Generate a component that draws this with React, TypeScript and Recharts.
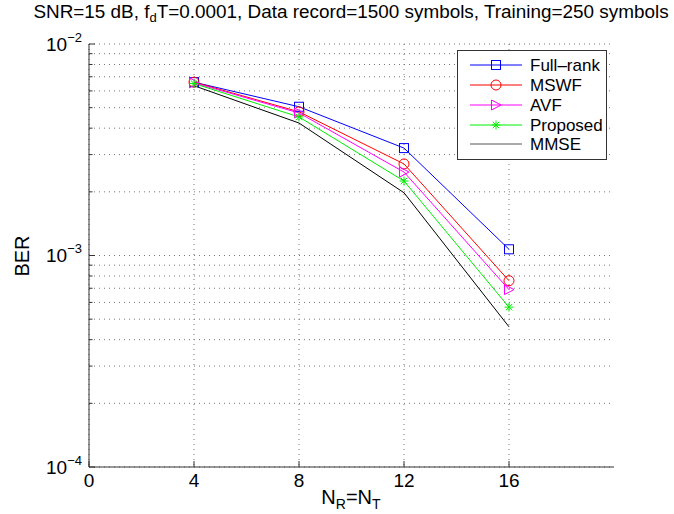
import React from "react";
import { LineChart, Line, XAxis, YAxis, CartesianGrid, Legend, Label } from "recharts";

// ---- data ----
const nValues = [4, 8, 12, 16];
const fullRank = [6.6e-3, 5.05e-3, 3.22e-3, 1.07e-3];
const mswf = [6.6e-3, 4.78e-3, 2.71e-3, 7.6e-4];
const avf = [6.55e-3, 4.72e-3, 2.48e-3, 6.9e-4];
const proposed = [6.5e-3, 4.52e-3, 2.25e-3, 5.7e-4];
const mmse = [6.35e-3, 4.23e-3, 1.98e-3, 4.6e-4];

const xTicks = [0, 4, 8, 12, 16];
const yTicks = [
  1e-4, 2e-4, 3e-4, 4e-4, 5e-4, 6e-4, 7e-4, 8e-4, 9e-4,
  1e-3, 2e-3, 3e-3, 4e-3, 5e-3, 6e-3, 7e-3, 8e-3, 9e-3, 1e-2,
];
const seriesNames = ["Full\u2013rank", "MSWF", "AVF", "Proposed", "MMSE"];
const titleParts = ["SNR=15 dB, f", "d", "T=0.0001, Data record=1500 symbols, Training=250 symbols"];

const data = nValues.map((n, i) => ({
  n,
  fullRank: fullRank[i],
  mswf: mswf[i],
  avf: avf[i],
  proposed: proposed[i],
  mmse: mmse[i],
}));

// ---- layout ----
const W = 674;
const H = 514;
const PL = 89;
const PR = 614;
const PT = 44;
const PB = 467;
const FONT = "'Liberation Sans', Arial, Helvetica, sans-serif";
const AX = "#333";

const COLORS = ["#0000ff", "#ff0000", "#ff00ff", "#00ee00", "#000000"];
const KEYS = ["fullRank", "mswf", "avf", "proposed", "mmse"];

const Marker = ({ kind, cx, cy, color }: any) => {
  if (cx == null || cy == null) return null;
  if (kind === 0) {
    return <rect x={cx - 4.5} y={cy - 4.5} width={9} height={9} fill="none" stroke={color} strokeWidth={1} />;
  }
  if (kind === 1) {
    return <circle cx={cx} cy={cy} r={5} fill="none" stroke={color} strokeWidth={1} />;
  }
  if (kind === 2) {
    return (
      <polygon
        points={`${cx - 4.5},${cy - 5} ${cx + 5},${cy} ${cx - 4.5},${cy + 5}`}
        fill="none"
        stroke={color}
        strokeWidth={1}
      />
    );
  }
  if (kind === 3) {
    const r = 4.5;
    const d = r * 0.72;
    return (
      <g stroke={color} strokeWidth={1}>
        <line x1={cx - r} y1={cy} x2={cx + r} y2={cy} />
        <line x1={cx} y1={cy - r} x2={cx} y2={cy + r} />
        <line x1={cx - d} y1={cy - d} x2={cx + d} y2={cy + d} />
        <line x1={cx - d} y1={cy + d} x2={cx + d} y2={cy - d} />
      </g>
    );
  }
  return null;
};

const makeDot = (kind: number, color: string) => (props: any) => (
  <g key={`dot-${kind}-${props.index}`}>
    <Marker kind={kind} cx={props.cx} cy={props.cy} color={color} />
  </g>
);

const isDecade = (v: number) => {
  const e = Math.round(Math.log10(v));
  return Math.abs(v / Math.pow(10, e) - 1) < 1e-6;
};

const LeftTick = (props: any) => {
  const { y, payload } = props;
  const v = payload.value;
  const dec = isDecade(v);
  const e = Math.round(Math.log10(v));
  return (
    <g>
      <line x1={PL} x2={PL + (dec ? 6 : 3.5)} y1={y} y2={y} stroke={AX} strokeWidth={1} />
      {dec && (
        <text x={82} y={y} dy="0.36em" textAnchor="end" fontFamily={FONT} fontSize={19} fill="#000">
          10
          <tspan dy={-9} fontSize={13}>{`\u2212${-e}`}</tspan>
        </text>
      )}
    </g>
  );
};

const RightTick = (props: any) => {
  const { y, payload } = props;
  const dec = isDecade(payload.value);
  return <line x1={PR} x2={PR - (dec ? 6 : 3.5)} y1={y} y2={y} stroke={AX} strokeWidth={1} />;
};

const BottomTick = (props: any) => {
  const { x, payload } = props;
  return (
    <g>
      <line x1={x} x2={x} y1={PB} y2={PB - 6} stroke={AX} strokeWidth={1} />
      <text x={x} y={PB + 20} textAnchor="middle" fontFamily={FONT} fontSize={19} fill="#000">
        {payload.value}
      </text>
    </g>
  );
};

const TopTick = (props: any) => {
  const { x } = props;
  return <line x1={x} x2={x} y1={PT} y2={PT + 6} stroke={AX} strokeWidth={1} />;
};

const XLabel = () => (
  <text x={351} y={504} textAnchor="middle" fontFamily={FONT} fontSize={20} fill="#000">
    N
    <tspan dy={5} fontSize={14}>R</tspan>
    <tspan dy={-5}>=N</tspan>
    <tspan dy={5} fontSize={14}>T</tspan>
  </text>
);

const YLabel = () => (
  <text
    x={22}
    y={256}
    transform="rotate(-90 22 256)"
    textAnchor="middle"
    dominantBaseline="central"
    fontFamily={FONT}
    fontSize={20}
    fill="#000"
  >
    BER
  </text>
);

const LegendBox = () => {
  const rowY = [14, 34, 54, 74, 93];
  return (
    <div style={{ width: 150, height: 110, border: `1px solid ${AX}`, background: "#fff", boxSizing: "border-box" }}>
      <svg width={148} height={108} style={{ display: "block" }}>
        {seriesNames.map((name, i) => (
          <g key={name}>
            <line x1={12} x2={64} y1={rowY[i]} y2={rowY[i]} stroke={i === 4 ? "#555" : COLORS[i]} strokeWidth={1} />
            <Marker kind={i} cx={38} cy={rowY[i]} color={COLORS[i]} />
            <text x={72} y={rowY[i]} dy="0.36em" fontFamily={FONT} fontSize={17} fill="#000">
              {name}
            </text>
          </g>
        ))}
      </svg>
    </div>
  );
};

export default function App() {
  return (
    <div style={{ position: "absolute", left: 0, top: 0, width: W, height: H, background: "#fff", overflow: "hidden" }}>
      <div
        style={{
          position: "absolute",
          left: 0,
          top: 2,
          width: 702,
          textAlign: "center",
          fontFamily: FONT,
          fontSize: 18.9,
          color: "#000",
          whiteSpace: "nowrap",
          lineHeight: "20px",
        }}
      >
        {titleParts[0]}
        <sub style={{ fontSize: 13, verticalAlign: "-4px", lineHeight: 0 }}>{titleParts[1]}</sub>
        {titleParts[2]}
      </div>
      <div style={{ position: "absolute", left: 0, top: 0 }}>
        <LineChart width={W} height={H} data={data} margin={{ top: PT, right: W - PR, bottom: 0, left: 0 }}>
          <CartesianGrid
            xAxisId="bottom"
            yAxisId="left"
            stroke="#777"
            strokeDasharray="1 4"
            verticalValues={xTicks}
            horizontalValues={yTicks}
          />
          <XAxis
            xAxisId="bottom"
            dataKey="n"
            type="number"
            domain={[0, 20]}
            ticks={xTicks}
            height={H - PB}
            tickLine={false}
            tickSize={0}
            axisLine={{ stroke: AX }}
            tick={BottomTick}
            interval={0}
            allowDataOverflow
          >
            <Label content={XLabel} />
          </XAxis>
          <XAxis
            xAxisId="top"
            orientation="top"
            dataKey="n"
            type="number"
            domain={[0, 20]}
            ticks={xTicks}
            height={0}
            tickLine={false}
            axisLine={{ stroke: AX }}
            tick={TopTick}
            interval={0}
            allowDataOverflow
          />
          <YAxis
            yAxisId="left"
            scale="log"
            type="number"
            domain={[1e-4, 1e-2]}
            ticks={yTicks}
            width={PL}
            tickLine={false}
            tickSize={0}
            axisLine={{ stroke: AX }}
            tick={LeftTick}
            interval={0}
            allowDataOverflow
          >
            <Label content={YLabel} />
          </YAxis>
          <YAxis
            yAxisId="right"
            orientation="right"
            scale="log"
            type="number"
            domain={[1e-4, 1e-2]}
            ticks={yTicks}
            width={0}
            tickLine={false}
            axisLine={{ stroke: AX }}
            tick={RightTick}
            interval={0}
            allowDataOverflow
          />
          {KEYS.map((k, i) => (
            <Line
              key={k}
              xAxisId="bottom"
              yAxisId="left"
              dataKey={k}
              name={seriesNames[i]}
              stroke={COLORS[i]}
              strokeWidth={1}
              dot={i < 4 ? makeDot(i, COLORS[i]) : false}
              activeDot={false}
              isAnimationActive={false}
            />
          ))}
          <Legend
            layout="vertical"
            align="center"
            verticalAlign="middle"
            content={() => <LegendBox />}
            wrapperStyle={{ position: "absolute", left: 457, top: 50, width: 150, height: 110, margin: 0 }}
          />
        </LineChart>
      </div>
    </div>
  );
}
